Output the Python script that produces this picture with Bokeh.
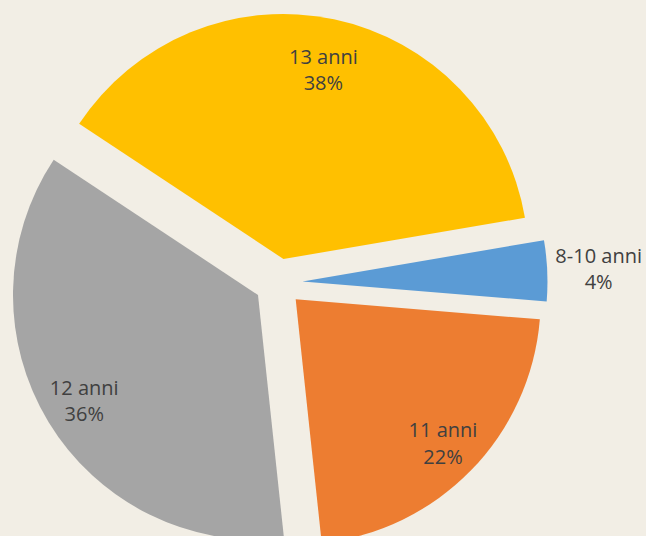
import math
from bokeh.plotting import figure
from bokeh.models import Range1d, ColumnDataSource
from bokeh.embed import file_html
from bokeh.resources import INLINE
from bokeh.core.properties import value

# ---- data ----
labels = ["8-10 anni", "11 anni", "12 anni", "13 anni"]
shares = [4, 22, 36, 38]
colors = ["#5B9BD5", "#ED7D31", "#A5A5A5", "#FFC000"]

# ---- layout ----
W, H = 646, 536
BG = "#F2EEE5"
CX, CY = 278, 254          # pie centre (data units = px)
R = 245                    # pie radius
EXPLODE = 24               # explosion offset
START_DEG = 9.7            # angle of first slice's leading edge, going clockwise
label_frac = [1.21, 0.84, 0.83, 0.79]

total = float(sum(shares))
xs, ys, st, en, lx, ly, txt = [], [], [], [], [], [], []
cum = 0.0
for lab, v, f in zip(labels, shares, label_frac):
    end = START_DEG - cum / total * 360.0
    start = end - v / total * 360.0
    mid = math.radians((start + end) / 2.0)
    tx = CX + EXPLODE * math.cos(mid)
    ty = CY + EXPLODE * math.sin(mid)
    xs.append(tx); ys.append(ty)
    st.append(math.radians(start)); en.append(math.radians(end))
    lx.append(tx + f * R * math.cos(mid)); ly.append(ty + f * R * math.sin(mid))
    txt.append(f"{lab}\n{v}%")
    cum += v

src = ColumnDataSource(dict(x=xs, y=ys, start=st, end=en, color=colors,
                            lx=lx, ly=ly, text=txt))

p = figure(width=W, height=H, x_range=Range1d(0, W), y_range=Range1d(0, H),
           output_backend="svg", toolbar_location=None, min_border=0)
p.axis.visible = False
p.grid.visible = False
p.outline_line_color = None
p.background_fill_color = BG
p.border_fill_color = BG

p.wedge(x="x", y="y", radius=R, start_angle="start", end_angle="end",
        direction="anticlock", fill_color="color", line_color=None, source=src)

p.text(x="lx", y="ly", text="text", source=src, text_align="center",
       text_baseline="middle", text_font=value("Open Sans"),
       text_font_size="20px", text_color="#404040", text_line_height=0.97)

html = file_html(p, INLINE, title="chart")
html = html.replace("</head>",
                    "<style>html,body{margin:0;padding:0;background:%s;overflow:hidden;}</style></head>" % BG, 1)
open("out.html", "w").write(html)
